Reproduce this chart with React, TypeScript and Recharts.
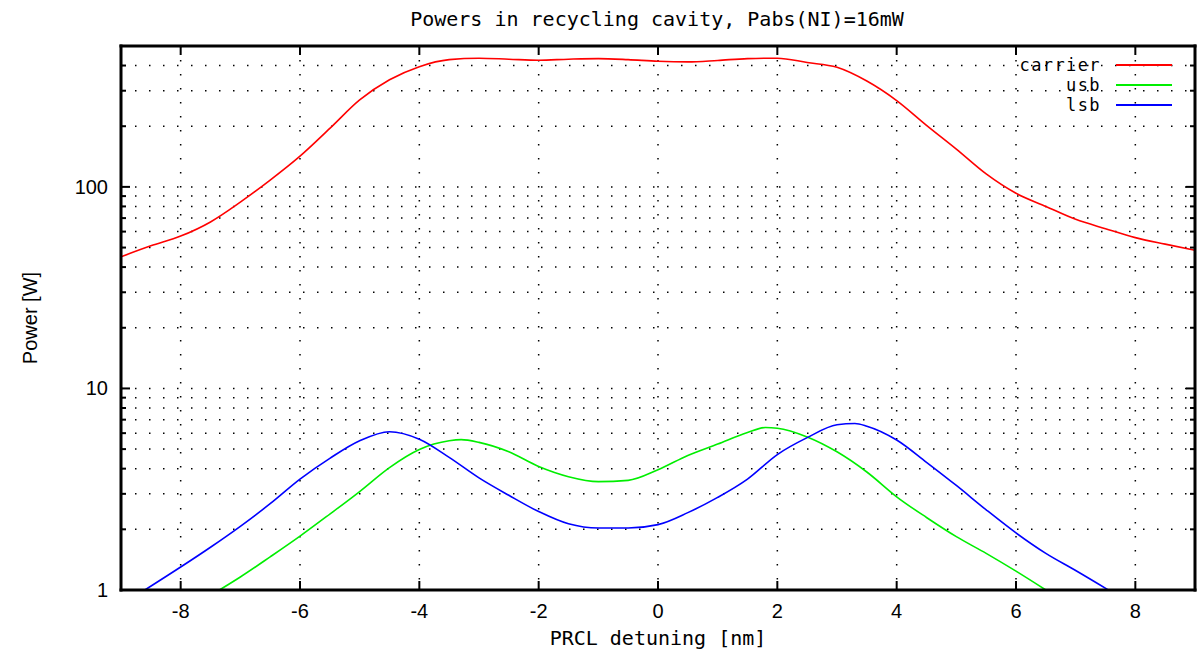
import { LineChart, Line, XAxis, YAxis, CartesianGrid, Legend } from 'recharts'

const MONO = '"DejaVu Sans Mono", monospace'
const SANS = '"Liberation Sans", Arial, sans-serif'

// PRCL detuning [nm] and power [W]
const carrierX = [-9, -8.5, -8, -7.5, -7, -6.5, -6, -5.5, -5, -4.5, -4, -3.5, -3, -2.5, -2, -1.5, -1, -0.5, 0, 0.5, 1, 1.5, 2, 2.5, 3, 3.5, 4, 4.5, 5, 5.5, 6, 6.5, 7, 7.5, 8, 8.5, 9]
const carrierP = [45, 51, 57, 67, 84, 108, 142, 195, 270, 340, 395, 428, 435, 430, 425, 430, 433, 428, 420, 417, 424, 433, 435, 414, 392, 335, 268, 202, 154, 116, 93, 80, 69, 62, 56, 52, 48.5]

const usbX = [-7.35, -7, -6.5, -6, -5.5, -5, -4.5, -4, -3.5, -3.3, -3, -2.5, -2, -1.5, -1, -0.5, 0, 0.5, 1, 1.5, 1.8, 2, 2.5, 3, 3.5, 4, 4.5, 5, 5.5, 6, 6.5]
const usbP = [1, 1.16, 1.46, 1.85, 2.38, 3.08, 4.05, 4.98, 5.5, 5.57, 5.4, 4.85, 4.1, 3.65, 3.45, 3.5, 3.95, 4.65, 5.3, 6.05, 6.4, 6.35, 5.75, 4.85, 3.85, 2.9, 2.29, 1.84, 1.52, 1.24, 1]

const lsbX = [-8.6, -8, -7.5, -7, -6.5, -6, -5.5, -5, -4.5, -4, -3.5, -3, -2.5, -2, -1.5, -1, -0.5, 0, 0.5, 1, 1.5, 2, 2.5, 3, 3.3, 3.5, 4, 4.5, 5, 5.5, 6, 6.5, 7, 7.55]
const lsbP = [1, 1.3, 1.63, 2.07, 2.68, 3.55, 4.5, 5.5, 6.1, 5.6, 4.55, 3.6, 2.95, 2.45, 2.13, 2.03, 2.03, 2.11, 2.42, 2.88, 3.55, 4.7, 5.7, 6.6, 6.7, 6.5, 5.55, 4.3, 3.3, 2.5, 1.92, 1.52, 1.25, 1]

const xTicks = [-8, -6, -4, -2, 0, 2, 4, 6, 8]
const yTicks = [1, 2, 3, 4, 5, 6, 7, 8, 9, 10, 20, 30, 40, 50, 60, 70, 80, 90, 100, 200, 300, 400]
const yMajor = [1, 10, 100]

const toPoints = (xs: number[], ps: number[]) => xs.map((x, i) => ({ x, p: ps[i] }))

const series = [
    { name: 'carrier', color: '#ff0000', data: toPoints(carrierX, carrierP) },
    { name: 'usb', color: '#00ee00', data: toPoints(usbX, usbP) },
    { name: 'lsb', color: '#0000ff', data: toPoints(lsbX, lsbP) },
]
const seriesOrder = series.map((s) => s.name)

const LeftTick = ({ x, y, payload }: any) => {
    const major = yMajor.includes(payload.value)
    return (
        <g>
            <line x1={x} x2={x + (major ? 9 : 5)} y1={y} y2={y} stroke="#000" strokeWidth={2} />
            {major && (
                <text x={x - 13} y={y} textAnchor="end" dominantBaseline="central" fontFamily={SANS} fontSize={20} fill="#000">
                    {payload.value}
                </text>
            )}
        </g>
    )
}

const RightTick = ({ x, y, payload }: any) => {
    const major = yMajor.includes(payload.value)
    return <line x1={x} x2={x - (major ? 9 : 5)} y1={y} y2={y} stroke="#000" strokeWidth={2} />
}

const BottomTick = ({ x, y, payload }: any) => (
    <g>
        <line x1={x} x2={x} y1={y} y2={y - 9} stroke="#000" strokeWidth={2} />
        <text x={x} y={y + 28} textAnchor="middle" fontFamily={SANS} fontSize={20} fill="#000">
            {payload.value}
        </text>
    </g>
)

const TopTick = ({ x, y }: any) => <line x1={x} x2={x} y1={y} y2={y + 9} stroke="#000" strokeWidth={2} />

const LegendBox = ({ payload }: any) => {
    const items = [...(payload || [])].sort((a: any, b: any) => seriesOrder.indexOf(a.value) - seriesOrder.indexOf(b.value))
    return (
        <div style={{ fontFamily: MONO, fontSize: 17, letterSpacing: '1.4px', lineHeight: '20px', color: '#000' }}>
            {items.map((entry: any) => (
                <div key={entry.value} style={{ display: 'flex', alignItems: 'center', justifyContent: 'flex-end', height: 20 }}>
                    <span>{entry.value}</span>
                    <span style={{ display: 'inline-block', width: 56, height: 2, background: entry.color, marginLeft: 15 }} />
                </div>
            ))}
        </div>
    )
}

const axisLine = { stroke: '#000', strokeWidth: 3, strokeLinecap: 'square' as const }

export default function App() {
    return (
        <div style={{ position: 'absolute', left: 0, top: 0, width: 1201, height: 655, background: '#fff' }}>
            <div
                style={{
                    position: 'absolute',
                    top: 7,
                    left: 0,
                    width: 1314,
                    textAlign: 'center',
                    fontFamily: MONO,
                    fontSize: 20,
                    lineHeight: '24px',
                    color: '#000',
                    zIndex: 2,
                }}
            >
                Powers in recycling cavity, Pabs(NI)=16mW
            </div>
            <LineChart width={1201} height={655} margin={{ top: 45, right: 0, bottom: 0, left: 0 }}>
                <CartesianGrid stroke="#000" strokeWidth={1.5} strokeDasharray="1.5 12.5" />
                <XAxis
                    dataKey="x"
                    type="number"
                    domain={[-9, 9]}
                    allowDataOverflow
                    ticks={xTicks}
                    interval={0}
                    height={65}
                    tickSize={0}
                    tickMargin={0}
                    tickLine={false}
                    axisLine={axisLine}
                    tick={BottomTick}
                    label={{ value: 'PRCL detuning [nm]', position: 'insideBottom', offset: 10, fontFamily: MONO, fontSize: 20, fill: '#000' }}
                />
                <XAxis
                    xAxisId="t"
                    orientation="top"
                    dataKey="x"
                    type="number"
                    domain={[-9, 9]}
                    allowDataOverflow
                    ticks={xTicks}
                    interval={0}
                    height={1}
                    tickSize={0}
                    tickMargin={0}
                    tickLine={false}
                    axisLine={axisLine}
                    tick={TopTick}
                />
                <YAxis
                    type="number"
                    scale="log"
                    domain={[1, 500]}
                    allowDataOverflow
                    ticks={yTicks}
                    interval={0}
                    width={121}
                    tickSize={0}
                    tickMargin={0}
                    tickLine={false}
                    axisLine={axisLine}
                    tick={LeftTick}
                    label={{
                        value: 'Power [W]',
                        angle: -90,
                        position: 'insideLeft',
                        offset: 30,
                        fontFamily: SANS,
                        fontSize: 20,
                        fill: '#000',
                        style: { textAnchor: 'middle' },
                    }}
                />
                <YAxis
                    yAxisId="r"
                    orientation="right"
                    type="number"
                    scale="log"
                    domain={[1, 500]}
                    allowDataOverflow
                    ticks={yTicks}
                    interval={0}
                    width={6}
                    tickSize={0}
                    tickMargin={0}
                    tickLine={false}
                    axisLine={axisLine}
                    tick={RightTick}
                />
                <Legend
                    layout="horizontal"
                    verticalAlign="middle"
                    align="center"
                    content={LegendBox}
                    wrapperStyle={{ top: 55, right: 29, left: 'auto', width: 'auto' }}
                />
                {series.map((s) => (
                    <Line
                        key={s.name}
                        name={s.name}
                        data={s.data}
                        dataKey="p"
                        type="monotone"
                        stroke={s.color}
                        strokeWidth={1.6}
                        dot={false}
                        activeDot={false}
                        isAnimationActive={false}
                    />
                ))}
            </LineChart>
        </div>
    )
}
